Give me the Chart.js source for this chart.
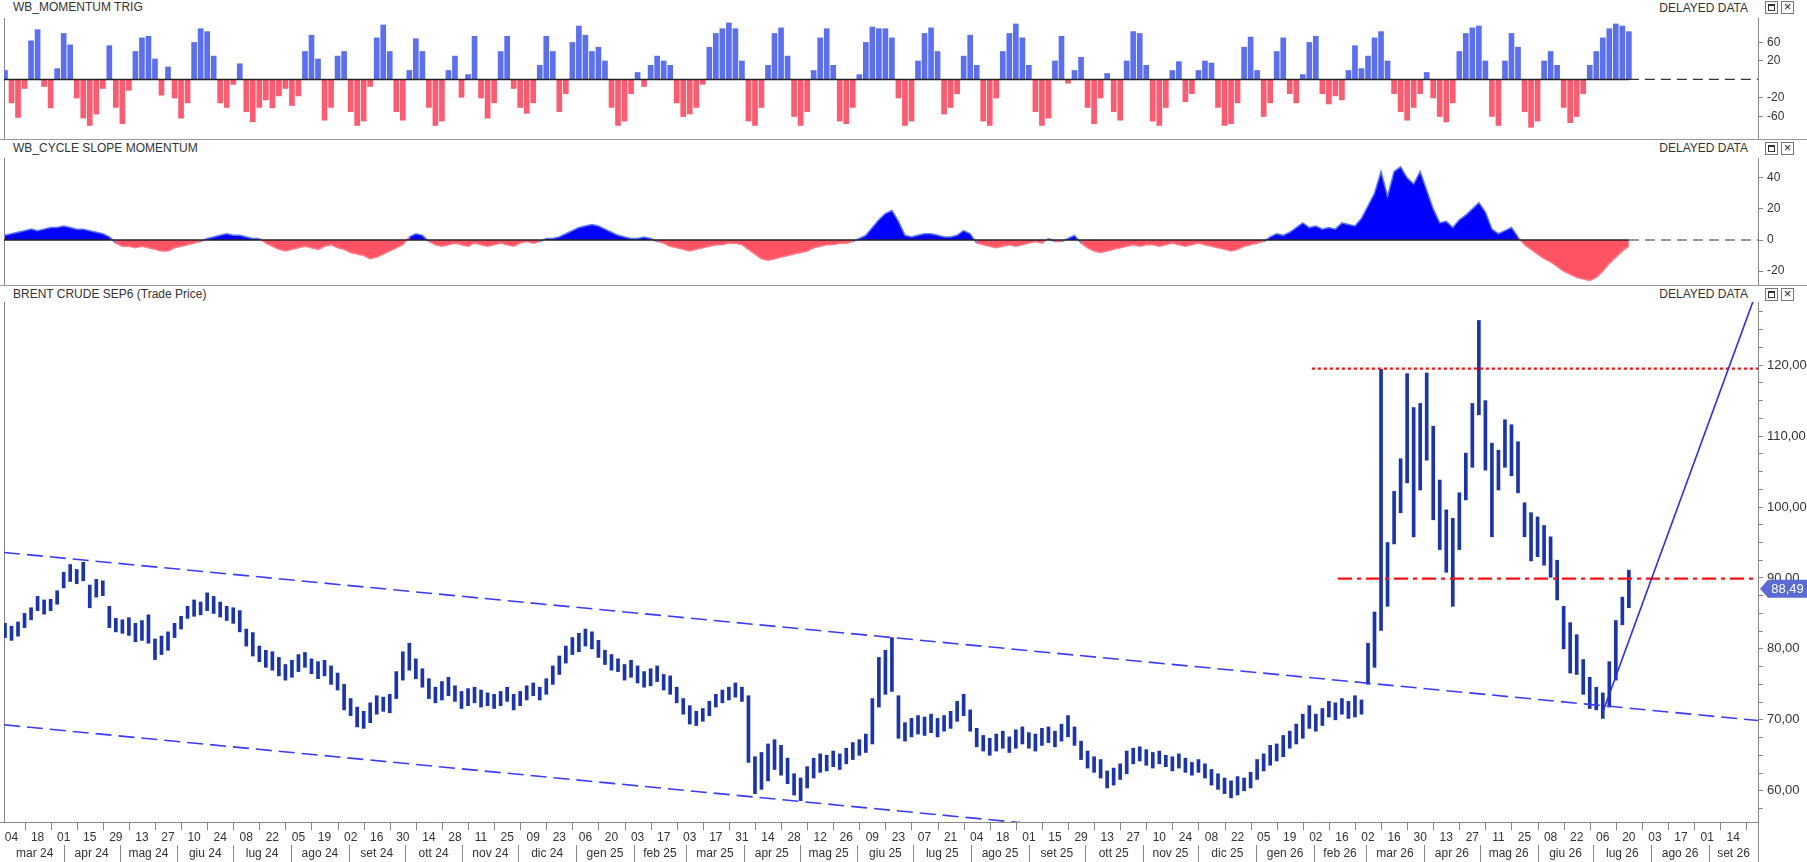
<!DOCTYPE html>
<html lang="it">
<head>
<meta charset="utf-8">
<title>BRENT CRUDE SEP6</title>
<script src="https://cdn.jsdelivr.net/npm/chart.js@4.4.1/dist/chart.umd.min.js"></script>
<style>
  html, body { margin: 0; padding: 0; background: #fff; }
  body { position: relative; width: 1807px; height: 862px; overflow: hidden;
         font-family: "Liberation Sans", Arial, sans-serif; color: #333; }
  canvas { position: absolute; left: 0; }
  .title, .delayed { position: absolute; font-size: 12px; line-height: 14px; white-space: nowrap; color: #333; }
  .title { left: 13px; }
  .delayed { right: 59px; }
  .icon { position: absolute; width: 13px; height: 13px; border: 1px solid #777; background: #fff; box-sizing: border-box; }
  .icon.max::after { content: ""; position: absolute; left: 2px; top: 2px; width: 7px; height: 7px;
                     border: 1px solid #333; border-top-width: 2px; box-sizing: border-box; }
  .icon.cls { font-size: 13px; line-height: 10px; text-align: center; color: #222; }
  .sep { position: absolute; left: 0; width: 1807px; height: 1px; background: #999; }
  .vline { position: absolute; left: 4px; width: 1px; background: #888; }
</style>
</head>
<body>
<div class="title" style="top:0px">WB_MOMENTUM TRIG</div>
<div class="delayed" style="top:1px">DELAYED DATA</div>
<div class="icon max" style="left:1765px;top:1px"></div>
<div class="icon cls" style="left:1781px;top:1px">×</div>
<div class="vline" style="top:18px;height:121px"></div>
<canvas id="mom" width="1807" height="121" style="top:18px"></canvas>
<div class="sep" style="top:139px"></div>

<div class="title" style="top:141px">WB_CYCLE SLOPE MOMENTUM</div>
<div class="delayed" style="top:141px">DELAYED DATA</div>
<div class="icon max" style="left:1765px;top:142px"></div>
<div class="icon cls" style="left:1781px;top:142px">×</div>
<div class="vline" style="top:158px;height:127px"></div>
<canvas id="slope" width="1807" height="127" style="top:158px"></canvas>
<div class="sep" style="top:285px"></div>

<div class="title" style="top:287px">BRENT CRUDE SEP6 (Trade Price)</div>
<div class="delayed" style="top:287px">DELAYED DATA</div>
<div class="icon max" style="left:1765px;top:288px"></div>
<div class="icon cls" style="left:1781px;top:288px">×</div>
<div class="vline" style="top:302px;height:520px"></div>
<canvas id="price" width="1807" height="560" style="top:302px"></canvas>

<script>
// one value every half week, counted from the week of 04 mar 2024
const firstWeek = -0.5;
const weekStep = 0.5;

// WB_MOMENTUM TRIG
const momentum = [
  8,-28,-63,-8,65,109,-6,-38,10,92,
  53,-20,-65,-92,-53,-8,51,-37,-85,-10,
  37,75,81,23,-16,12,-20,-65,-28,60,
  114,100,28,-28,-37,-4,16,-47,-78,-37,
  -23,-38,-17,-8,-33,-17,37,85,23,-72,
  -37,28,37,-47,-92,-75,-6,75,134,37,
  -47,-72,8,72,37,-37,-92,-75,8,28,
  -19,4,81,-20,-65,-28,37,81,-8,-37,
  -51,-28,14,81,37,-47,-14,60,128,85,
  37,47,20,-37,-92,-75,-14,6,-6,14,
  28,20,14,-28,-60,-53,-37,-4,47,92,
  114,146,114,20,-75,-92,-37,14,92,118,
  28,-60,-92,-47,8,75,114,14,-75,-85,
  -37,4,60,123,114,114,75,-20,-92,-75,
  20,92,118,37,-53,-37,-14,28,85,14,
  -75,-92,-20,37,92,140,75,14,-47,-92,
  -65,20,81,-3,8,26,-37,-85,-20,5,
  -47,-72,20,100,92,14,-75,-92,-37,8,
  19,-26,-14,8,20,17,-37,-92,-85,-28,
  47,78,8,-60,-28,37,75,-14,-28,4,
  60,81,-14,-30,-17,-23,8,51,10,28,
  75,100,20,-14,-47,-72,-37,-14,6,-20,
  -60,-78,-28,37,92,118,128,20,-60,-92,
  20,92,47,-47,-100,-75,20,37,14,-37,
  -81,-60,-14,14,37,75,114,140,128,100
];

// WB_CYCLE SLOPE MOMENTUM
const slope = [
  3,4,5,6,7,6,7,8,8,9,
  8,7,7,6,5,4,2,-2,-4,-4,
  -5,-4,-5,-6,-7,-7,-5,-4,-3,-2,
  -1,1,2,3,4,3,3,2,1,1,
  -2,-4,-6,-7,-6,-5,-4,-5,-6,-4,
  -3,-5,-6,-8,-9,-10,-12,-11,-9,-7,
  -5,-3,2,4,3,-1,-3,-4,-3,-2,
  -3,-4,-2,-3,-4,-3,-2,-3,-4,-2,
  -1,-2,-1,1,1,2,4,6,8,9,
  10,9,7,5,3,2,1,1,2,1,
  -1,-2,-4,-5,-6,-7,-6,-5,-4,-3,
  -3,-2,-2,-3,-6,-9,-12,-13,-12,-11,
  -10,-9,-8,-7,-5,-4,-3,-3,-2,-2,
  -1,1,3,8,13,17,19,12,3,2,
  3,4,4,3,2,2,3,6,4,-2,
  -3,-4,-5,-4,-3,-4,-3,-2,-1,-2,
  1,-1,-1,1,3,-2,-5,-7,-8,-7,
  -6,-5,-4,-3,-4,-3,-3,-4,-3,-2,
  -3,-4,-3,-2,-3,-4,-5,-6,-7,-6,
  -4,-3,-2,-1,2,4,3,5,8,11,
  8,9,7,8,7,11,10,9,14,22,
  30,44,28,44,47,40,36,44,32,20,
  11,12,8,13,16,20,24,18,7,4,
  6,8,2,-3,-6,-9,-12,-14,-17,-20,
  -22,-24,-25,-26,-24,-20,-15,-11,-7,-4
];

// BRENT CRUDE SEP6, low and high of each half week
const priceLow = [
  81.6,81.2,81.8,83.0,84.1,85.4,84.9,85.4,86.3,88.6,
  89.5,89.2,89.6,85.8,87.3,87.5,83.0,82.4,82.2,81.9,
  81.0,81.2,80.8,78.5,79.2,79.8,81.6,82.8,84.3,84.6,
  84.8,85.4,85.0,84.5,84.0,83.6,82.4,80.4,79.0,78.2,
  77.4,77.0,76.2,75.6,76.0,76.8,77.4,76.5,75.8,76.2,
  75.0,74.2,71.4,70.6,69.0,68.8,69.6,70.8,71.2,71.0,
  73.0,75.6,77.0,75.8,74.6,73.0,72.4,72.8,73.4,72.6,
  71.6,72.0,72.4,71.8,72.0,71.6,72.0,72.6,71.4,72.0,
  72.8,73.4,72.8,73.6,75.0,76.4,78.0,79.2,79.6,80.4,
  80.0,78.8,77.8,77.0,76.8,75.6,76.0,75.2,74.6,74.8,
  75.4,74.2,73.6,72.4,70.8,69.4,69.2,69.8,70.6,71.8,
  72.4,72.8,73.2,72.6,64.0,59.6,60.2,61.4,63.0,62.2,
  61.0,59.4,58.6,60.4,61.8,62.6,62.8,63.4,63.0,63.8,
  64.4,65.0,65.4,66.6,71.8,73.6,74.0,67.4,67.0,67.6,
  68.0,67.8,68.2,67.6,68.4,68.8,69.8,70.6,68.4,66.2,
  65.6,65.0,65.6,66.0,65.4,66.0,66.6,66.0,65.6,66.4,
  66.8,66.2,67.0,67.6,66.4,64.4,63.2,62.6,61.8,60.4,
  60.8,61.6,62.4,63.8,64.2,63.6,63.2,63.8,63.4,62.8,
  63.2,62.6,62.2,62.6,61.8,60.8,60.2,59.6,59.0,59.4,
  60.0,60.4,61.6,62.8,63.6,64.2,64.8,66.0,66.6,67.4,
  68.8,68.4,69.2,70.4,70.0,70.8,70.2,70.4,70.8,75.0,
  77.4,82.6,86.0,94.8,99.2,103.4,95.8,102.4,106.6,98.2,
  94.0,90.8,86.0,94.0,101.0,105.6,113.0,105.2,95.8,102.4,
  105.6,104.4,102.0,95.8,92.4,93.0,91.8,90.1,86.9,80.0,
  76.6,76.4,73.6,71.6,71.4,70.2,71.8,75.6,83.4,85.8
];
const priceHigh = [
  83.6,83.2,83.8,85.0,85.8,87.4,86.9,87.0,88.2,90.8,
  91.9,91.2,92.2,89.0,89.8,89.6,86.0,84.3,84.1,84.4,
  83.6,84.0,84.8,81.4,81.8,82.4,83.6,84.6,86.0,86.9,
  86.6,87.9,87.4,86.6,86.0,85.8,85.4,82.8,82.3,80.4,
  79.8,79.6,78.8,77.8,78.4,79.2,79.5,78.6,78.2,78.4,
  77.6,76.6,75.0,73.0,71.8,71.2,72.4,73.4,73.2,73.6,
  76.8,79.6,80.8,78.6,77.2,75.8,74.6,75.4,76.0,74.8,
  74.0,74.4,74.6,74.2,73.8,73.6,74.0,74.6,73.6,74.0,
  74.8,75.2,74.6,75.8,77.6,79.0,80.4,81.6,82.2,82.8,
  82.4,81.2,79.8,79.2,78.6,77.8,78.4,77.6,76.8,77.2,
  77.6,76.4,76.2,74.6,73.0,72.0,71.2,71.6,72.6,73.6,
  74.2,74.6,75.2,74.6,73.4,64.8,65.4,66.6,67.2,66.4,
  64.6,62.4,61.8,63.4,64.6,65.2,65.0,65.6,65.2,66.0,
  66.8,67.2,68.0,73.0,78.8,79.8,81.6,73.4,69.6,70.2,
  70.6,70.4,70.8,70.2,70.6,71.2,72.6,73.6,71.4,68.8,
  67.8,67.4,68.0,68.4,67.6,68.6,69.0,68.2,68.0,68.8,
  69.0,68.4,69.4,70.6,69.0,67.0,65.6,64.8,64.4,62.8,
  63.2,63.8,65.6,66.0,66.2,65.8,65.4,65.6,65.0,64.8,
  65.2,64.6,64.0,64.4,63.8,63.0,62.4,61.8,61.4,62.0,
  61.8,62.6,64.4,65.2,66.4,66.6,67.8,68.4,69.4,70.8,
  72.0,70.8,71.6,72.6,72.4,73.0,72.6,73.4,72.8,80.8,
  85.2,119.4,95.0,102.2,106.8,118.8,114.0,114.6,118.9,111.4,
  103.8,99.6,98.4,102.0,107.6,114.6,126.3,115.0,109.0,108.0,
  112.3,111.6,109.2,100.6,99.2,98.6,97.4,95.8,92.5,86.0,
  83.7,82.0,78.5,76.0,74.6,73.8,78.2,84.0,87.3,91.1
];
const lastClose = 88.49;

// drawn lines on the price panel: [week, price] end points
const upperChannel = [[-0.575, 93.6], [133.9, 69.9]];
const lowerChannel = [[-0.575, 69.3], [133.9, 45.5]];
const riseLine = [[122.0, 71.1], [133.9, 130.9]];
const resistance = [[99.7, 119.5], [133.9, 119.5]];
const support = [[101.7, 89.9], [133.9, 89.9]];

// x axis texts, one day label every two weeks
const dayTicks = ['04','18','01','15','29','13','27','10','24','08','22','05','19','02','16','30',
  '14','28','11','25','09','23','06','20','03','17','03','17','31','14','28','12','26','09','23',
  '07','21','04','18','01','15','29','13','27','10','24','08','22','05','19','02','16','02','16',
  '30','13','27','11','25','08','22','06','20','03','17','01','14'];
const monthNames = ['mar 24','apr 24','mag 24','giu 24','lug 24','ago 24','set 24','ott 24','nov 24',
  'dic 24','gen 25','feb 25','mar 25','apr 25','mag 25','giu 25','lug 25','ago 25','set 25','ott 25',
  'nov 25','dic 25','gen 26','feb 26','mar 26','apr 26','mag 26','giu 26','lug 26','ago 26','set 26'];

const xMin = -0.575, xMax = 133.9;
const FONT = '"Liberation Sans", Arial, sans-serif';
const BLUE = '#5b6ff2', RED = '#ff5a70';

const weekOf = i => firstWeek + i * weekStep;
const lastWeek = weekOf(momentum.length - 1);
const monthStart = i => (Date.UTC(2024, 2 + i, 1) - Date.UTC(2024, 2, 4)) / 6048e5;

// the momentum panel uses a symmetric log axis (20 and 60 ticks)
const SYM_C = 20;
class SymLogScale extends Chart.LinearScale {
  static id = 'symlog';
  tf(v) { return Math.sign(v) * Math.log(1 + Math.abs(v) / SYM_C); }
  getPixelForValue(v) {
    const a = this.tf(this.min), b = this.tf(this.max);
    return this.getPixelForDecimal((this.tf(v) - a) / (b - a));
  }
  getValueForPixel(p) {
    const a = this.tf(this.min), b = this.tf(this.max);
    const t = a + this.getDecimalForPixel(p) * (b - a);
    return Math.sign(t) * SYM_C * (Math.exp(Math.abs(t)) - 1);
  }
}
Chart.register(SymLogScale);

const common = {
  responsive: false,
  animation: false,
  events: [],
  layout: { padding: { left: 4, right: 0, top: 0, bottom: 0 } },
  plugins: { legend: { display: false }, tooltip: { enabled: false } }
};
const xScale = { type: 'linear', min: xMin, max: xMax, display: false, offset: false };

function rightAxis(extra) {
  return Object.assign({
    position: 'right',
    grid: { drawOnChartArea: false, color: '#888', tickLength: 5 },
    border: { color: '#888' },
    ticks: { color: '#333', font: { size: 12, family: FONT }, padding: 4, autoSkip: false },
    afterFit(s) { s.width = 49; s.paddingTop = 0; s.paddingBottom = 0; }
  }, extra);
}

function zeroLines() {
  return [
    { type: 'line', data: [{ x: xMin, y: 0 }, { x: lastWeek, y: 0 }], borderColor: '#222',
      borderWidth: 1.5, pointRadius: 0, order: 0 },
    { type: 'line', data: [{ x: lastWeek, y: 0 }, { x: xMax, y: 0 }], borderColor: '#333',
      borderWidth: 1.2, borderDash: [10, 6], pointRadius: 0, order: 0 }
  ];
}

// top: momentum histogram
new Chart(document.getElementById('mom'), {
  type: 'bar',
  data: {
    datasets: [
      { data: momentum.map((v, i) => ({ x: weekOf(i), y: v })),
        backgroundColor: c => (c.raw && c.raw.y < 0) ? RED : BLUE,
        barThickness: 5, order: 1 },
      ...zeroLines()
    ]
  },
  options: Object.assign({}, common, {
    scales: {
      x: xScale,
      y: rightAxis({
        type: 'symlog', min: -166, max: 180,
        afterBuildTicks(s) { s.ticks = [-60, -20, 20, 60].map(v => ({ value: v })); }
      })
    }
  })
});

// middle: cycle slope momentum area
new Chart(document.getElementById('slope'), {
  type: 'line',
  data: {
    datasets: [
      { data: slope.map((v, i) => ({ x: weekOf(i), y: v })),
        fill: { target: 'origin', above: '#0000ff', below: '#ff5263' },
        borderColor: '#5a78ff', borderWidth: 1.5, pointRadius: 0, tension: 0, order: 1,
        segment: { borderColor: c => (c.p0.parsed.y + c.p1.parsed.y) < 0 ? '#ff7a88' : '#5a78ff' } },
      ...zeroLines()
    ]
  },
  options: Object.assign({}, common, {
    scales: {
      x: xScale,
      y: rightAxis({
        type: 'linear', min: -28.9, max: 52.7,
        afterBuildTicks(s) { s.ticks = [-20, 0, 20, 40].map(v => ({ value: v })); }
      })
    }
  })
});

// bottom: price panel
const lineDs = (pts, color, width, dash) => ({
  type: 'line', data: pts.map(([x, y]) => ({ x, y })), borderColor: color,
  borderWidth: width, borderDash: dash || [], pointRadius: 0, order: 0
});

const xAxisLabels = {
  id: 'xAxisLabels',
  afterDraw(chart) {
    const { ctx, chartArea: a, scales: { x } } = chart;
    const b = a.bottom;
    ctx.save();
    ctx.strokeStyle = '#888';
    ctx.lineWidth = 1;
    ctx.beginPath();
    ctx.moveTo(0, b + 0.5); ctx.lineTo(a.right, b + 0.5);
    ctx.moveTo(a.right + 0.5, b); ctx.lineTo(a.right + 0.5, chart.height);
    for (let w = 1; w < xMax; w += 2) {
      const px = Math.round(x.getPixelForValue(w)) + 0.5;
      ctx.moveTo(px, b); ctx.lineTo(px, b + 8);
    }
    monthNames.forEach((m, i) => {
      if (i === 0) return;
      const px = Math.round(x.getPixelForValue(monthStart(i))) + 0.5;
      ctx.moveTo(px, b + 23); ctx.lineTo(px, b + 40);
    });
    ctx.stroke();
    ctx.fillStyle = '#333';
    ctx.font = '12px ' + FONT;
    ctx.textAlign = 'center';
    ctx.textBaseline = 'middle';
    dayTicks.forEach((t, i) => ctx.fillText(t, x.getPixelForValue(i * 2), b + 16));
    monthNames.forEach((m, i) => {
      const s = Math.max(monthStart(i), xMin), e = Math.min(monthStart(i + 1), xMax);
      ctx.fillText(m, x.getPixelForValue((s + e) / 2), b + 32);
    });
    ctx.restore();
  }
};

const priceTag = {
  id: 'priceTag',
  afterDraw(chart) {
    const { ctx, chartArea: a, scales: { y } } = chart;
    const py = y.getPixelForValue(lastClose);
    const x0 = a.right + 2, x1 = chart.width;
    ctx.save();
    ctx.fillStyle = '#5a6bd2';
    ctx.beginPath();
    ctx.moveTo(x0, py);
    ctx.lineTo(x0 + 8, py - 9);
    ctx.lineTo(x1, py - 9);
    ctx.lineTo(x1, py + 9);
    ctx.lineTo(x0 + 8, py + 9);
    ctx.closePath();
    ctx.fill();
    ctx.fillStyle = '#fff';
    ctx.font = '13px ' + FONT;
    ctx.textAlign = 'center';
    ctx.textBaseline = 'middle';
    ctx.fillText(lastClose.toFixed(2).replace('.', ','), (x0 + 8 + x1) / 2, py + 1);
    ctx.restore();
  }
};

new Chart(document.getElementById('price'), {
  type: 'bar',
  data: {
    datasets: [
      { data: priceLow.map((lo, i) => ({ x: weekOf(i), y: [lo, priceHigh[i]] })),
        backgroundColor: '#1a33b5', borderColor: '#1a33b5', borderWidth: 0,
        barThickness: 3, order: 1 },
      lineDs(upperChannel, '#3b3bff', 1.6, [16, 7]),
      lineDs(lowerChannel, '#3b3bff', 1.6, [16, 7]),
      lineDs(riseLine, '#2b2bff', 1.6),
      lineDs(resistance, '#ff1010', 2.2, [3, 3]),
      lineDs(support, '#ff1010', 2.4, [14, 5, 4, 5])
    ]
  },
  options: Object.assign({}, common, {
    layout: { padding: { left: 4, right: 0, top: 0, bottom: 40 } },
    scales: {
      x: xScale,
      y: rightAxis({
        type: 'linear', min: 55.6, max: 128.9,
        afterBuildTicks(s) {
          const t = [];
          for (let v = 57.5; v < 128.9; v += 2.5) t.push({ value: v });
          s.ticks = t;
        },
        ticks: { color: '#333', font: { size: 13, family: FONT }, padding: 4, autoSkip: false,
                 callback: v => (Math.abs(v % 10) < 1e-6) ? v.toFixed(2).replace('.', ',') : '' }
      })
    }
  }),
  plugins: [xAxisLabels, priceTag]
});
</script>
</body>
</html>
